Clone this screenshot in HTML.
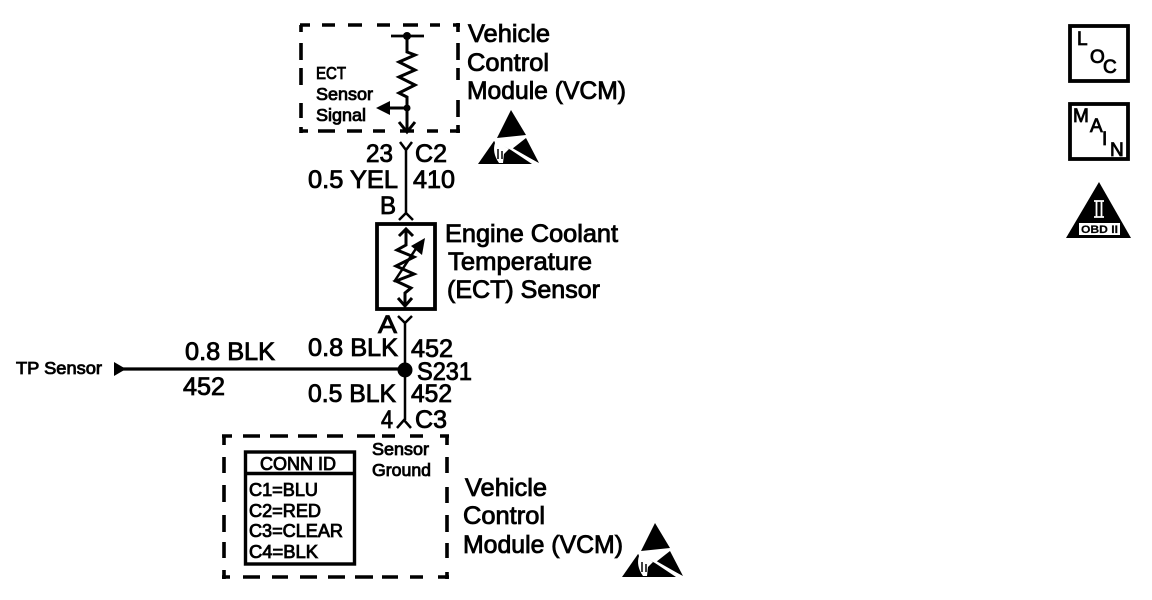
<!DOCTYPE html>
<html>
<head>
<meta charset="utf-8">
<style>
html,body{margin:0;padding:0;background:#fff;width:1152px;height:600px;overflow:hidden}
svg{display:block}
text{font-family:"Liberation Sans",sans-serif;fill:#000;stroke:#000;stroke-width:.85}
.b{font-size:25px}
.s{font-size:17.500px}
.c{font-size:18px}
.i{font-size:19px}
.d{fill:none;stroke:#000;stroke-width:3.600}
</style>
</head>
<body>
<svg width="1152" height="600" viewBox="0 0 1152 600" xmlns="http://www.w3.org/2000/svg">
<defs>
<g id="esd">
<polygon points="511,110 526,135 497,138" fill="#000"/>
<polygon points="526,138 539,163 512,149" fill="#000"/>
<polygon points="478,164 494,141 511,150 532,164" fill="#000"/>
<path d="M494,140 L509,149 L504,154 L503,163 L499,163 C494,156 493,149 495,143 Z" fill="#fff"/>
<path d="M498,149 V159 M502,151 V159" stroke="#000" stroke-width="1.500" fill="none"/>
<path d="M510,148 L538,164" stroke="#fff" stroke-width="2.200"/>
</g>
</defs>

<!-- top dashed module -->
<path class="d" d="M300,25 H310 M322,25 H335 M348,25 H362 M377,25 H390 M403,25 H418 M430,25 H440 M453,25 H460
M301,25 V32 M301,43 V60 M301,68 V85 M301,103 V118 M301,127 V133
M300,131 H308 M318,131 H335 M347,131 H362 M373,131 H385 M400,131 H414 M427,131 H438 M450,131 H460
M458,23 V32 M458,43 V60 M458,68 V80 M458,100 V117 M458,125 V133"/>
<path d="M391,36 H424" stroke="#000" stroke-width="2.800"/>
<circle cx="407" cy="36" r="4" fill="#000"/>
<path d="M407,36 V52 L415,55 L399,62 L415,70 L399,77 L415,85 L399,93 L407,97 V130" fill="none" stroke="#000" stroke-width="3"/>
<circle cx="407" cy="108" r="3.500" fill="#000"/>
<path d="M407,108 H385" stroke="#000" stroke-width="3"/>
<polygon points="376,108 390,101 390,115" fill="#000"/>
<path d="M399,122 L407,132 L415,122" fill="none" stroke="#000" stroke-width="3"/>

<text class="s" x="316" y="79" textLength="30" lengthAdjust="spacingAndGlyphs">ECT</text>
<text class="s" x="316" y="100" textLength="57" lengthAdjust="spacingAndGlyphs">Sensor</text>
<text class="s" x="316" y="121" textLength="50" lengthAdjust="spacingAndGlyphs">Signal</text>

<text class="b" x="468" y="42" textLength="82" lengthAdjust="spacingAndGlyphs">Vehicle</text>
<text class="b" x="467" y="71" textLength="82" lengthAdjust="spacingAndGlyphs">Control</text>
<text class="b" x="467" y="99" textLength="159" lengthAdjust="spacingAndGlyphs">Module (VCM)</text>

<use href="#esd"/>

<!-- upper wire -->
<path d="M400,142 L406,150 L412,142 M406,150 V214 M399,220 L406,213 L413,220" fill="none" stroke="#000" stroke-width="2.500"/>
<text class="b" x="366" y="162" textLength="27" lengthAdjust="spacingAndGlyphs">23</text>
<text class="b" x="415" y="162" textLength="32" lengthAdjust="spacingAndGlyphs">C2</text>
<text class="b" x="308" y="188" textLength="90" lengthAdjust="spacingAndGlyphs">0.5 YEL</text>
<text class="b" x="413" y="188" textLength="42" lengthAdjust="spacingAndGlyphs">410</text>
<text class="b" x="380" y="214" textLength="16" lengthAdjust="spacingAndGlyphs">B</text>

<!-- ECT sensor -->
<rect x="377" y="224" width="58" height="85" fill="none" stroke="#000" stroke-width="3.800"/>
<path d="M399,236 L406,229 L413,236 M406,229 V245 L397,250 L414,257 L396,266 L414,274 L396,281 L411,288 L405,293 V306 M398,298 L405,306 L412,298" fill="none" stroke="#000" stroke-width="3"/>
<path d="M394,282 L419,244" stroke="#000" stroke-width="2.500"/>
<polygon points="425,238 422,255 411,246" fill="#000"/>

<text class="b" x="445" y="242" textLength="173" lengthAdjust="spacingAndGlyphs">Engine Coolant</text>
<text class="b" x="448" y="270" textLength="144" lengthAdjust="spacingAndGlyphs">Temperature</text>
<text class="b" x="447" y="298" textLength="153" lengthAdjust="spacingAndGlyphs">(ECT) Sensor</text>

<!-- lower wire -->
<path d="M398,316 L405,323 L405,420 M397,428 L404,420 L411,428 M412,316 L405,323" fill="none" stroke="#000" stroke-width="2.500"/>
<text class="b" x="378" y="333" textLength="19" lengthAdjust="spacingAndGlyphs">A</text>
<text class="b" x="308" y="356" textLength="90" lengthAdjust="spacingAndGlyphs">0.8 BLK</text>
<text class="b" x="411" y="357" textLength="42" lengthAdjust="spacingAndGlyphs">452</text>
<text class="b" x="185" y="360" textLength="90" lengthAdjust="spacingAndGlyphs">0.8 BLK</text>
<text class="b" x="183" y="395" textLength="42" lengthAdjust="spacingAndGlyphs">452</text>
<text class="b" x="417" y="380" textLength="55" lengthAdjust="spacingAndGlyphs">S231</text>
<text class="b" x="308" y="402" textLength="88" lengthAdjust="spacingAndGlyphs">0.5 BLK</text>
<text class="b" x="411" y="402" textLength="41" lengthAdjust="spacingAndGlyphs">452</text>
<text class="b" x="381" y="428" textLength="12" lengthAdjust="spacingAndGlyphs">4</text>
<text class="b" x="415" y="428" textLength="32" lengthAdjust="spacingAndGlyphs">C3</text>

<path d="M120,369 H405" stroke="#000" stroke-width="3.200"/>
<polygon points="114,362 126,369 114,376" fill="#000"/>
<circle cx="405" cy="370" r="7.500" fill="#000"/>
<text class="s" x="16" y="374" textLength="86" lengthAdjust="spacingAndGlyphs">TP Sensor</text>

<!-- bottom dashed module -->
<path class="d" d="M222,436 H232 M243,436 H260 M270,436 H288 M298,436 H317 M327,436 H343 M357,436 H375 M382,436 H395 M410,436 H423 M440,436 H449
M224,435 V445 M224,457 V473 M224,485 V502 M224,515 V532 M224,542 V558 M224,570 V579
M447,435 V445 M447,457 V473 M447,487 V503 M447,515 V532 M447,543 V558 M447,572 V579
M222,577 H230 M243,577 H260 M272,577 H288 M300,577 H317 M328,577 H345 M355,577 H373 M382,577 H398 M410,577 H423 M438,577 H449"/>
<text class="s" x="372" y="455" textLength="57" lengthAdjust="spacingAndGlyphs">Sensor</text>
<text class="s" x="372" y="476" textLength="59" lengthAdjust="spacingAndGlyphs">Ground</text>

<rect x="245.500" y="452" width="109" height="112" fill="none" stroke="#000" stroke-width="3.400"/>
<path d="M245,473.500 H355" stroke="#000" stroke-width="3.400"/>
<text class="c" x="260" y="470" textLength="76" lengthAdjust="spacingAndGlyphs">CONN ID</text>
<text class="c" x="249" y="496" textLength="69" lengthAdjust="spacingAndGlyphs">C1=BLU</text>
<text class="c" x="249" y="517" textLength="72" lengthAdjust="spacingAndGlyphs">C2=RED</text>
<text class="c" x="249" y="537" textLength="94" lengthAdjust="spacingAndGlyphs">C3=CLEAR</text>
<text class="c" x="249" y="558" textLength="69" lengthAdjust="spacingAndGlyphs">C4=BLK</text>

<text class="b" x="465" y="496" textLength="82" lengthAdjust="spacingAndGlyphs">Vehicle</text>
<text class="b" x="463" y="524" textLength="82" lengthAdjust="spacingAndGlyphs">Control</text>
<text class="b" x="463" y="553" textLength="160" lengthAdjust="spacingAndGlyphs">Module (VCM)</text>

<use href="#esd" transform="translate(144,413)"/>

<!-- LOC -->
<rect x="1070" y="26" width="58" height="55" fill="none" stroke="#000" stroke-width="3.800"/>
<text class="i" x="1077" y="45">L</text>
<text class="i" x="1090" y="63">O</text>
<text class="i" x="1103" y="73">C</text>

<!-- MAIN -->
<rect x="1070" y="104" width="58" height="55" fill="none" stroke="#000" stroke-width="3.800"/>
<text class="i" x="1073" y="122">M</text>
<text class="i" x="1090" y="132">A</text>
<text class="i" x="1102" y="145">I</text>
<text class="i" x="1110" y="156">N</text>

<!-- OBD II -->
<polygon points="1099,182 1131,238 1066,238" fill="#000"/>
<rect x="1079" y="223" width="41" height="12" fill="#fff"/>
<text x="1081" y="233" style="font-size:11px;font-weight:bold;stroke-width:.2" textLength="37" lengthAdjust="spacingAndGlyphs">OBD II</text>
<path d="M1094,201 H1104 M1094,217 H1104 M1096.500,201 V217 M1101.500,201 V217" stroke="#fff" stroke-width="1.800" fill="none"/>
</svg>
</body>
</html>
